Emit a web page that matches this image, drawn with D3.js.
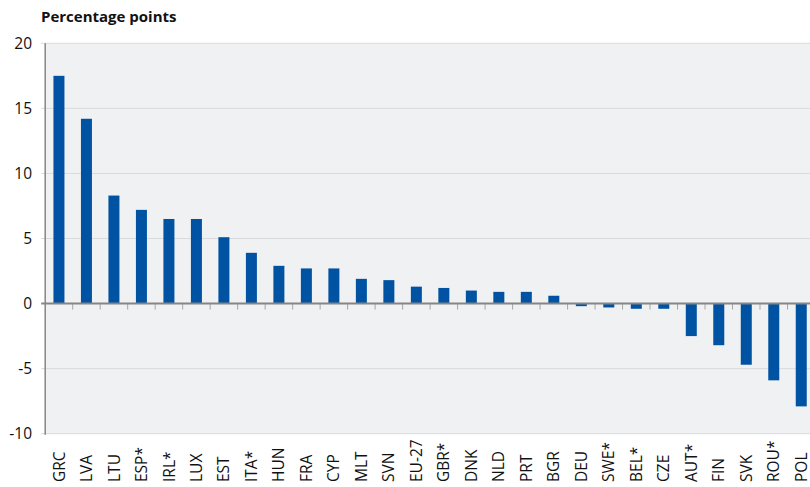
<!DOCTYPE html>
<html><head><meta charset="utf-8">
<script src="https://cdn.jsdelivr.net/npm/d3@7"></script>
<style>body{margin:0;background:#fff;} svg{display:block;font-family:"Open Sans","Noto Sans",sans-serif;}</style>
</head><body>
<svg id="c" width="810" height="487"></svg>
<script>
const categories = ["GRC","LVA","LTU","ESP*","IRL*","LUX","EST","ITA*","HUN","FRA","CYP","MLT","SVN","EU-27","GBR*","DNK","NLD","PRT","BGR","DEU","SWE*","BEL*","CZE","AUT*","FIN","SVK","ROU*","POL"];
const values = [17.5,14.2,8.3,7.2,6.5,6.5,5.1,3.9,2.9,2.7,2.7,1.9,1.8,1.3,1.2,1.0,0.9,0.9,0.6,-0.2,-0.3,-0.4,-0.4,-2.5,-3.2,-4.7,-5.9,-7.9];
const yTicks = [-10,-5,0,5,10,15,20];
const yLabel = "Percentage points";

(function(){
const svg = d3.select("#c");
const pL = 45.2, pR = 815, pT = 43.3, pB = 433.7;
const x = d3.scaleBand().domain(categories).range([pL, pR]).paddingInner(0.6).paddingOuter(0.3);
const y = d3.scaleLinear().domain([-10,20]).range([pB, pT]);

svg.append("rect").attr("x", pL).attr("y", pT).attr("width", pR-pL).attr("height", pB-pT).attr("fill", "#f0f1f3");

// gridlines
svg.append("g").selectAll("line").data(yTicks.filter(d => d !== 0)).join("line")
  .attr("x1", pL-4).attr("x2", pR).attr("y1", d => y(d)).attr("y2", d => y(d))
  .attr("stroke", "#d9dadc").attr("stroke-width", 1);

// bars
svg.append("g").selectAll("rect").data(values).join("rect")
  .attr("x", (d,i) => x(categories[i]))
  .attr("width", x.bandwidth())
  .attr("y", d => y(Math.max(0,d)))
  .attr("height", d => Math.abs(y(d) - y(0)))
  .attr("fill", "#0052a3");

// category ticks below zero line
const step = x.step();
svg.append("g").selectAll("line").data(d3.range(1, categories.length)).join("line")
  .attr("x1", i => pL + i*step).attr("x2", i => pL + i*step)
  .attr("y1", y(0)).attr("y2", y(0)+6)
  .attr("stroke", "#a6a6a6").attr("stroke-width", 1);

// zero line
svg.append("line").attr("x1", pL-4).attr("x2", pR).attr("y1", y(0)).attr("y2", y(0))
  .attr("stroke", "#858585").attr("stroke-width", 2);

// y axis line
svg.append("line").attr("x1", pL).attr("x2", pL).attr("y1", pT).attr("y2", pB+1)
  .attr("stroke", "#858585").attr("stroke-width", 1.5);

// y tick labels
svg.append("g").selectAll("text").data(yTicks).join("text")
  .attr("x", 32).attr("y", d => y(d)).attr("dy", "0.35em")
  .attr("text-anchor", "end").attr("font-size", 15.5).attr("fill", "#111")
  .text(d => d);

// x labels (bottom-anchored, reading upward)
svg.append("g").selectAll("text").data(categories).join("text")
  .attr("transform", d => `translate(${x(d) + x.bandwidth()/2},482) rotate(-90)`)
  .attr("dy", "0.36em").attr("text-anchor", "start").attr("font-size", 15.5).attr("fill", "#111")
  .text(d => d);

svg.append("text").attr("x", 41).attr("y", 22).attr("font-size", 15).attr("font-weight", "bold")
  .attr("fill", "#111").text(yLabel);
})();
</script>
</body></html>
